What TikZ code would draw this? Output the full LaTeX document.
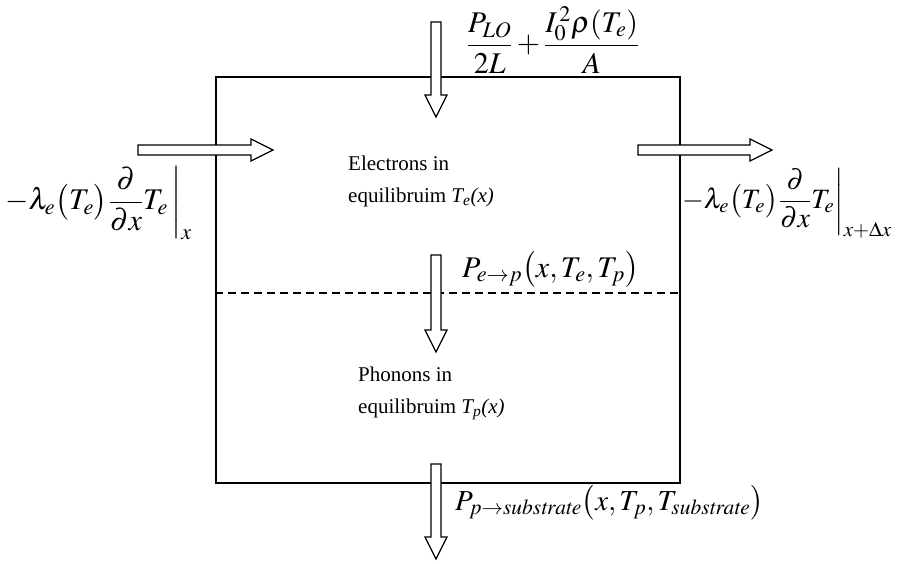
\documentclass[tikz,border=0pt]{standalone}
\usepackage{amsmath}
\usepackage{mathptmx}
\usepackage{fontspec}
\setmainfont{Liberation Serif}
\usetikzlibrary{positioning}
\newcommand{\txt}{\fontsize{21}{32}\selectfont}
\newcommand{\mth}{\fontsize{30}{34}\selectfont}

\begin{document}
\begin{tikzpicture}[
  x=1pt, y=-1pt,
  every node/.style={inner sep=0pt},
  lbl/.style={font=\txt, align=left},
  eq/.style={font=\mth},
  hollow/.pic={
    \draw[line width=1.2pt, fill=white]
      (-5,0) -- (5,0) -- (5,#1-22) -- (11,#1-22) -- (0,#1)
      -- (-11,#1-22) -- (-5,#1-22) -- cycle;}]
  \useasboundingbox (0,0) rectangle (904,563);
  % control volume
  \node[draw, line width=1.2pt, minimum width=464pt, minimum height=406pt] (cv) at (448,280) {};
  \draw[line width=1.2pt, dash pattern=on 8pt off 5pt] (cv.west |- 0,293) -- (cv.east |- 0,293);
  % heat flows
  \pic (top) at (436,22) {hollow=95};
  \pic (ep) at (436,255) {hollow=97};
  \pic (sub) at (436,464) {hollow=95};
  \pic[rotate=90] (in) at (138,150) {hollow=135};
  \pic[rotate=90] (out) at (638,150) {hollow=134};
  % labels
  \node[lbl, anchor=north west] (el) at (348,156) {Electrons in\\equilibruim \textit{T\textsubscript{e}(x)}};
  \node[lbl, anchor=north west] (ph) at (358,367) {Phonons in\\equilibruim \textit{T\textsubscript{p}(x)}};
  \node[eq] (src) at (553,40) {$\dfrac{P_{LO}}{2L}+\dfrac{I_0^{\,2}\rho(T_e)}{A}$};
  \node[eq, anchor=west] (qin) at (5,203) {$-\lambda_e\bigl(T_e\bigr){\left.\dfrac{\partial}{\partial x}T_e\,\right|_x}$};
  \node[eq, font=\fontsize{28}{32}\selectfont, anchor=west] (qout) at (682,203) {$-\lambda_e\bigl(T_e\bigr){\left.\dfrac{\partial}{\partial x}T_e\right|_{x+\Delta x}}$};
  \node[eq, anchor=base west] (pep) at (462,277) {$P_{e\rightarrow p}\bigl(x,T_e,T_p\bigr)$};
  \node[eq, font=\fontsize{29}{33}\selectfont, anchor=base west] (psub) at (455,510) {$P_{p\rightarrow \mathit{substrate}}\bigl(x,T_p,T_{\mathit{substrate}}\bigr)$};
\end{tikzpicture}
\end{document}
